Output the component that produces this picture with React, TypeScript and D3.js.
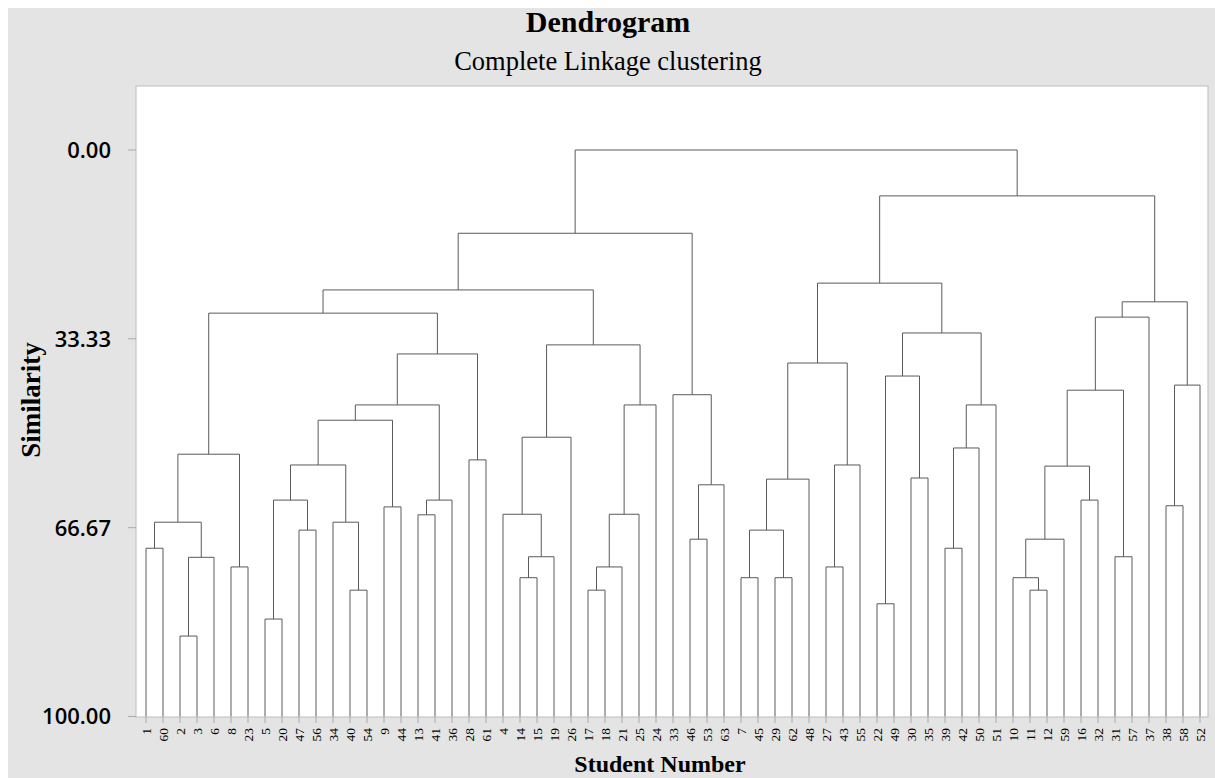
import React from 'react';
import * as d3 from 'd3';

// leaf order along the x axis, as printed under the chart
const leafOrder = [
  1, 60, 2, 3, 6, 8, 23, 5, 20, 47, 56, 34, 40, 54, 9, 44, 13, 41, 36, 28, 61,
  4, 14, 15, 19, 26, 17, 18, 21, 25, 24, 33, 46, 53, 63, 7, 45, 29, 62, 48, 27,
  43, 55, 22, 49, 30, 35, 39, 42, 50, 51, 10, 11, 12, 59, 16, 32, 31, 57, 37, 38,
  58, 52,
];

// merges: [id, left, right, similarity]; numbers are students, strings are earlier merges
const merges: [string, string | number, string | number, number][] = [
  ['a1', 1, 60, 70.3],
  ['a2', 2, 3, 85.8],
  ['a3', 'a2', 6, 71.9],
  ['a4', 'a1', 'a3', 65.7],
  ['a5', 8, 23, 73.6],
  ['a6', 'a4', 'a5', 53.7],
  ['a7', 5, 20, 82.8],
  ['a8', 47, 56, 67.1],
  ['a9', 'a7', 'a8', 61.8],
  ['a10', 40, 54, 77.7],
  ['a11', 34, 'a10', 65.7],
  ['a12', 'a9', 'a11', 55.6],
  ['a13', 9, 44, 63.0],
  ['a14', 'a12', 'a13', 47.7],
  ['a15', 13, 41, 64.4],
  ['a16', 'a15', 36, 61.8],
  ['a17', 'a14', 'a16', 45.0],
  ['a18', 28, 61, 54.7],
  ['a19', 'a17', 'a18', 36.0],
  ['a20', 'a6', 'a19', 28.8],
  ['b1', 14, 15, 75.5],
  ['b2', 'b1', 19, 71.8],
  ['b3', 4, 'b2', 64.3],
  ['b4', 'b3', 26, 50.7],
  ['b5', 17, 18, 77.7],
  ['b6', 'b5', 21, 73.6],
  ['b7', 'b6', 25, 64.3],
  ['b8', 'b7', 24, 45.0],
  ['b9', 'b4', 'b8', 34.4],
  ['b10', 'a20', 'b9', 24.7],
  ['c1', 46, 53, 68.7],
  ['c2', 'c1', 63, 59.1],
  ['c3', 33, 'c2', 43.2],
  ['c4', 'b10', 'c3', 14.7],
  ['d1', 7, 45, 75.5],
  ['d2', 29, 62, 75.5],
  ['d3', 'd1', 'd2', 67.1],
  ['d4', 'd3', 48, 58.1],
  ['d5', 27, 43, 73.6],
  ['d6', 'd5', 55, 55.6],
  ['d7', 'd4', 'd6', 37.6],
  ['e1', 22, 49, 80.1],
  ['e2', 30, 35, 57.9],
  ['e3', 'e1', 'e2', 39.9],
  ['e4', 39, 42, 70.3],
  ['e5', 'e4', 50, 52.6],
  ['e6', 'e5', 51, 45.0],
  ['e7', 'e3', 'e6', 32.3],
  ['e8', 'd7', 'e7', 23.5],
  ['f1', 11, 12, 77.7],
  ['f2', 10, 'f1', 75.5],
  ['f3', 'f2', 59, 68.7],
  ['f4', 16, 32, 61.8],
  ['f5', 'f3', 'f4', 55.8],
  ['f6', 31, 57, 71.8],
  ['f7', 'f5', 'f6', 42.4],
  ['f8', 'f7', 37, 29.5],
  ['g1', 38, 58, 62.8],
  ['g2', 'g1', 52, 41.5],
  ['g3', 'f8', 'g2', 26.8],
  ['g4', 'e8', 'g3', 8.1],
  ['root', 'c4', 'g4', 0],
];

const yTicks = [0, 33.33, 66.67, 100];

const W = 1215, H = 778;
const panel = { left: 136, top: 86, right: 1208, bottom: 717 };

type Node = { name: string | number; sim: number; children?: Node[] };

function buildTree(): Node {
  const byId: Record<string, Node> = {};
  const get = (k: string | number): Node =>
    typeof k === 'number' ? { name: k, sim: 100 } : byId[k];
  merges.forEach(([id, l, r, s]) => {
    byId[id] = { name: id, sim: s, children: [get(l), get(r)] };
  });
  return byId['root'];
}

export default function App() {
  const x = d3.scalePoint<number>().domain(leafOrder).range([146, 1200]);
  const y = d3.scaleLinear().domain([0, 100]).range([150, 716.5]);

  const root = d3.hierarchy(buildTree());
  const xs = new Map<any, number>();
  root.eachAfter((n) => {
    if (!n.children) xs.set(n, x(n.data.name as number)!);
    else xs.set(n, d3.mean(n.children, (c) => xs.get(c)!)!);
  });

  // one elbow per merge: left child up, across, right child down
  const paths: string[] = [];
  root.each((n) => {
    if (!n.children) return;
    const [a, b] = n.children;
    const yp = y(n.data.sim);
    paths.push(
      `M${xs.get(a)},${y(a.data.sim)}V${yp}H${xs.get(b)}V${y(b.data.sim)}`
    );
  });

  const serif = '"Liberation Serif", "Times New Roman", serif';

  return (
    <svg
      width={W}
      height={H}
      style={{ position: 'fixed', left: 0, top: 0, display: 'block' }}
    >
      <rect x={0} y={0} width={W} height={H} fill="#fff" />
      <rect x={8} y={8} width={W - 8} height={H - 8} fill="#e4e4e4" />
      <rect
        x={panel.left}
        y={panel.top}
        width={panel.right - panel.left}
        height={panel.bottom - panel.top}
        fill="#fff"
        stroke="#bdbdbd"
      />

      <text x={608} y={32} textAnchor="middle" fontFamily={serif} fontWeight="bold" fontSize={30}>
        Dendrogram
      </text>
      <text x={608} y={70} textAnchor="middle" fontFamily={serif} fontSize={26.5}>
        Complete Linkage clustering
      </text>

      {/* y axis */}
      {yTicks.map((t) => (
        <g key={t}>
          <line x1={128} x2={panel.left} y1={y(t)} y2={y(t)} stroke="#aaa" />
          <text
            x={111}
            y={y(t)}
            dy="0.36em"
            textAnchor="end"
            fontFamily='"Open Sans", sans-serif'
            fontWeight={600}
            fontSize={22}
          >
            {t.toFixed(2)}
          </text>
        </g>
      ))}
      <text
        transform={`translate(40,400) rotate(-90)`}
        textAnchor="middle"
        fontFamily={serif}
        fontWeight="bold"
        fontSize={27}
      >
        Similarity
      </text>

      {/* leaves */}
      {leafOrder.map((l) => (
        <g key={l}>
          <line x1={x(l)} x2={x(l)} y1={panel.bottom} y2={723} stroke="#aaa" />
          <text
            transform={`translate(${x(l)},728) rotate(-90)`}
            dy="0.35em"
            textAnchor="end"
            fontFamily={serif}
            fontSize={13.5}
          >
            {l}
          </text>
        </g>
      ))}
      <text x={660} y={772} textAnchor="middle" fontFamily={serif} fontWeight="bold" fontSize={24}>
        Student Number
      </text>

      {/* dendrogram links */}
      {paths.map((d, i) => (
        <path key={i} d={d} fill="none" stroke="#5a5a5a" strokeWidth={1} />
      ))}
    </svg>
  );
}
